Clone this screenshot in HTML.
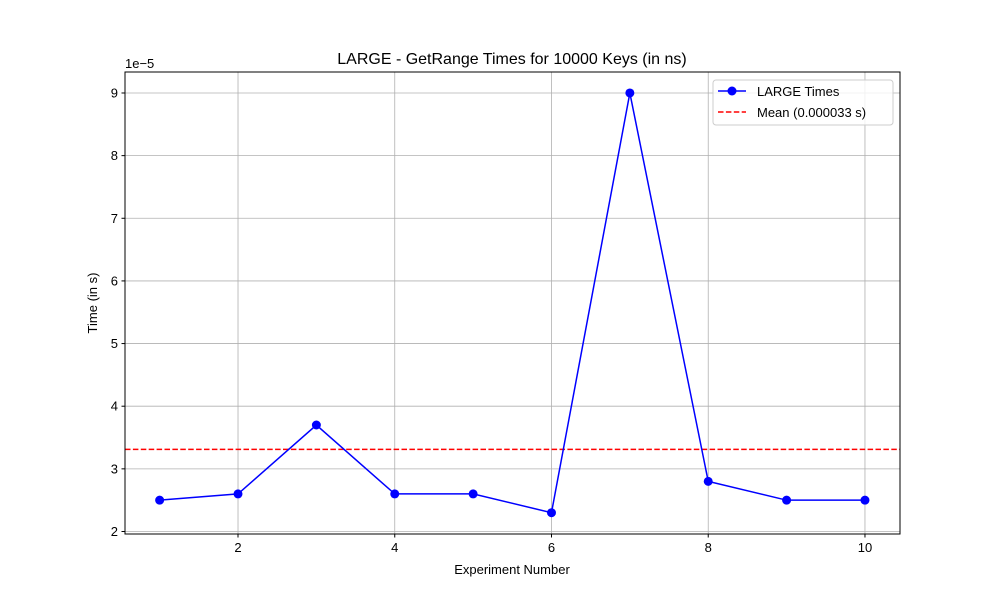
<!DOCTYPE html>
<html><head><meta charset="utf-8"><style>
body{margin:0;background:#fff;}
svg text{font-family:"Liberation Sans","DejaVu Sans",sans-serif;}
</style></head><body>
<svg id="chart" width="1000" height="600">
<rect width="1000" height="600" fill="#fff"/>
<g id="grid"></g>
<g id="ticks"></g>
<g id="series"></g>
<rect x="125" y="72" width="775" height="462" fill="none" stroke="#000" stroke-width="1"/>
<text x="512" y="64" font-size="16" text-anchor="middle">LARGE - GetRange Times for 10000 Keys (in ns)</text>
<text x="512" y="574" font-size="13" text-anchor="middle">Experiment Number</text>
<text transform="translate(97,303) rotate(-90)" font-size="13" text-anchor="middle">Time (in s)</text>
<text x="125" y="68" font-size="13">1e−5</text>
<g>
<rect x="713" y="80" width="180" height="45" rx="3" fill="#fff" fill-opacity="0.8" stroke="#ccc"/>
<line x1="718" y1="91" x2="746" y2="91" stroke="#0000ff" stroke-width="1.5"/>
<circle cx="732" cy="91" r="4.5" fill="#0000ff"/>
<text x="757" y="96" font-size="13">LARGE Times</text>
<line x1="718" y1="112" x2="746" y2="112" stroke="#ff0000" stroke-width="1.5" stroke-dasharray="5.5,2.4"/>
<text x="757" y="117" font-size="13">Mean (0.000033 s)</text>
</g>
</svg>
<script>
const experiments=[1,2,3,4,5,6,7,8,9,10];
const times=[2.5,2.6,3.7,2.6,2.6,2.3,9.0,2.8,2.5,2.5];
const meanValue=3.31;
const xTicks=[2,4,6,8,10];
const yTicks=[2,3,4,5,6,7,8,9];
const L=125,R=900,T=72,B=534,xmin=0.558,xmax=10.447,ymin=1.96,ymax=9.335;
const sx=v=>L+(v-xmin)/(xmax-xmin)*(R-L);
const sy=v=>B-(v-ymin)/(ymax-ymin)*(B-T);
const NS="http://www.w3.org/2000/svg";
function mk(tag,attrs,parent){const e=document.createElementNS(NS,tag);for(const k in attrs)e.setAttribute(k,attrs[k]);parent.appendChild(e);return e;}
const grid=document.getElementById('grid'),ticks=document.getElementById('ticks'),ser=document.getElementById('series');
xTicks.forEach(v=>{const x=sx(v);
const g=mk('line',{x1:x,x2:x,y1:T,y2:B,stroke:'#b0b0b0','stroke-width':0.8},grid);


mk('line',{x1:x,x2:x,y1:B,y2:B+3.5,stroke:'#000'},ticks);
const t=mk('text',{x:x,y:B+18,'font-size':13,'text-anchor':'middle'},ticks);t.textContent=v;

});
yTicks.forEach(v=>{const y=sy(v);
const g=mk('line',{x1:L,x2:R,y1:y,y2:y,stroke:'#b0b0b0','stroke-width':0.8},grid);


mk('line',{x1:L-3.5,x2:L,y1:y,y2:y,stroke:'#000'},ticks);
const t=mk('text',{x:L-7,y:y+4.5,'font-size':13,'text-anchor':'end'},ticks);t.textContent=v;

});
const ml=mk('line',{x1:L,x2:R,y1:sy(meanValue),y2:sy(meanValue),stroke:'#ff0000','stroke-width':1.5,'stroke-dasharray':'5.5,2.4'},ser);


const pl=mk('polyline',{points:experiments.map((e,i)=>sx(e)+','+sy(times[i])).join(' '),fill:'none',stroke:'#0000ff','stroke-width':1.5},ser);


experiments.forEach((e,i)=>{const c=mk('circle',{cx:sx(e),cy:sy(times[i]),r:4.5,fill:'#0000ff'},ser);

});
</script>
</body></html>
